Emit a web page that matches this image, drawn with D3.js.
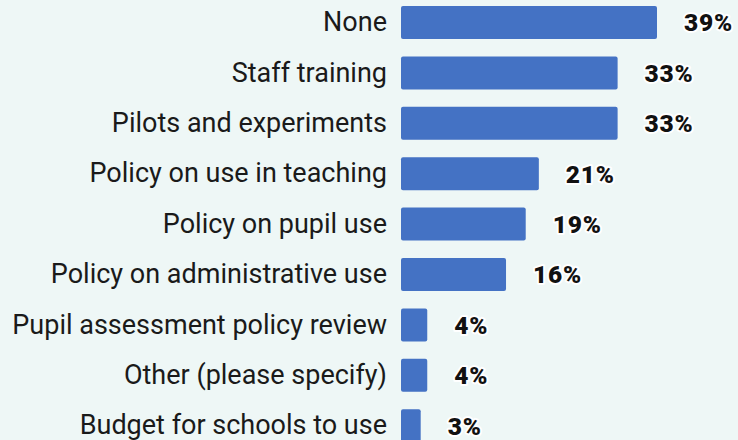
<!DOCTYPE html>
<html>
<head>
<meta charset="utf-8">
<script src="https://cdn.jsdelivr.net/npm/d3@7"></script>
<style>
  html, body { margin: 0; padding: 0; background: #eef7f6; }
  svg { display: block; }
</style>
</head>
<body>
<div id="chart"></div>
<script>
const categories = [
  "None",
  "Staff training",
  "Pilots and experiments",
  "Policy on use in teaching",
  "Policy on pupil use",
  "Policy on administrative use",
  "Pupil assessment policy review",
  "Other (please specify)",
  "Budget for schools to use"
];
const values = [39, 33, 33, 21, 19, 16, 4, 4, 3];
const valueLabels = ["39%", "33%", "33%", "21%", "19%", "16%", "4%", "4%", "3%"];

const W = 738, H = 440;
const x0 = 401;

const svg = d3.select("#chart").append("svg")
  .attr("width", W).attr("height", H);

svg.append("rect").attr("width", W).attr("height", H).attr("fill", "#eef7f6");

const x = d3.scaleLinear().domain([0, 39]).range([x0, 657]);
const y = d3.scaleBand().domain(categories).range([-2.7, -2.7 + 9 * 50.4]).paddingInner(0.345).paddingOuter(0.1725);

const rows = svg.selectAll("g.row").data(categories).join("g").attr("class", "row");

rows.append("rect")
  .attr("x", x(0))
  .attr("y", d => y(d))
  .attr("width", (d, i) => x(values[i]) - x(0))
  .attr("height", y.bandwidth())
  .attr("rx", 2)
  .attr("fill", "#4472c4");

rows.append("text")
  .attr("x", 387)
  .attr("y", d => y(d) + y.bandwidth() / 2)
  .attr("dy", "0.32em")
  .attr("text-anchor", "end")
  .attr("font-family", "Roboto, sans-serif")
  .attr("font-size", 27)
  .attr("fill", "#1a1a1a")
  .text(d => d);

rows.append("text")
  .attr("x", (d, i) => x(values[i]) + 27)
  .attr("y", d => y(d) + y.bandwidth() / 2)
  .attr("dy", "0.36em")
  .attr("font-family", "Roboto, sans-serif")
  .attr("font-weight", 900)
  .attr("font-size", 24.5)
  .attr("letter-spacing", 0.8)
  .attr("fill", "#111")
  .attr("stroke", "#ffffff")
  .attr("stroke-width", 4)
  .attr("stroke-linejoin", "round")
  .attr("paint-order", "stroke")
  .text((d, i) => valueLabels[i]);
</script>
</body>
</html>
